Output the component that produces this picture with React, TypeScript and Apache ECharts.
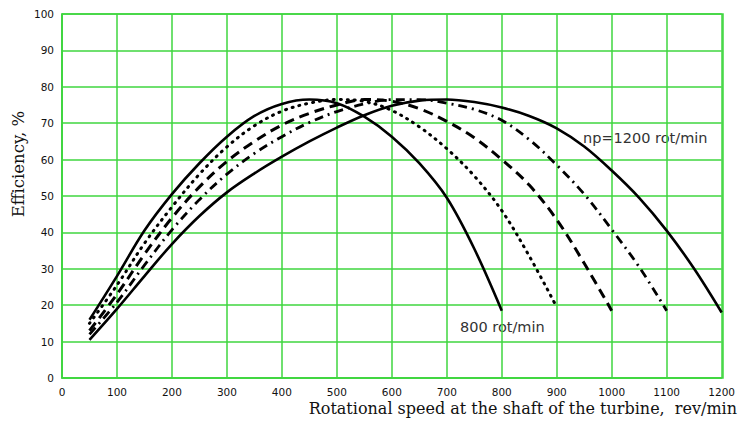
import React, { useEffect, useRef } from "react";
import * as echarts from "echarts";

const speeds800 = [50, 100, 150, 200, 250, 300, 350, 400, 450, 500, 550, 600, 650, 700, 750, 800];
const eff800 = [16, 28, 40.5, 50.5, 59, 66.3, 72, 75.3, 76.5, 75.5, 71.8, 66.3, 59, 49.5, 35.5, 18.5];

const speeds900 = [50, 100, 150, 200, 250, 300, 350, 400, 450, 500, 550, 600, 650, 700, 750, 800, 850, 900];
const eff900 = [15, 25.5, 37, 47, 56, 63.5, 69.3, 73.3, 75.5, 76.5, 76, 73.5, 69, 63, 55.5, 46, 33.5, 19.5];

const speeds1000 = [50, 100, 150, 200, 250, 300, 350, 400, 450, 500, 550, 600, 650, 700, 750, 800, 850, 900, 950, 1000];
const eff1000 = [13, 23, 34, 44, 52.5, 59.5, 65, 69.5, 72.7, 75, 76.5, 76, 74, 70.5, 66, 60, 53, 43.5, 31.5, 18.5];

const speeds1100 = [50, 100, 150, 200, 250, 300, 350, 400, 450, 500, 550, 600, 650, 700, 750, 800, 850, 900, 950, 1000, 1050, 1100];
const eff1100 = [12, 20.8, 31, 40.7, 49, 56, 61.7, 66.3, 70.2, 73.2, 75.3, 76.5, 76.5, 75.5, 73.8, 70.8, 65.5, 58.5, 50.5, 40.8, 30.5, 18.5];

const speeds1200 = [50, 100, 150, 200, 250, 300, 350, 400, 450, 500, 550, 600, 650, 700, 750, 800, 850, 900, 950, 1000, 1050, 1100, 1150, 1200];
const eff1200 = [10.5, 19, 28, 36.8, 44.5, 51, 56.2, 60.8, 65, 68.8, 72.2, 74.8, 76.2, 76.5, 75.8, 74.3, 72, 68.6, 63.6, 57, 49.5, 40.5, 30, 18];

const xLabel = "Rotational speed at the shaft of the turbine,  rev/min";
const yLabel = "Efficiency, %";
const label1200 = "np=1200 rot/min";
const label800 = "800 rot/min";

const zip = (xs: number[], ys: number[]) => xs.map((x, i) => [x, ys[i]]);

export default function App() {
  const ref = useRef<HTMLDivElement>(null);
  useEffect(() => {
    if (!ref.current) return;
    const chart = echarts.init(ref.current, null, { renderer: "svg" });
    const green = "#3fd63f";
    const lineBase = { type: "line", showSymbol: false, smooth: 0.35, silent: true };
    const tickLabel = {
      color: "#111",
      fontFamily: "DejaVu Sans",
      fontSize: 10.5,
      margin: 8,
      formatter: (v: number) => String(v),
    };
    chart.setOption({
      animation: false,
      backgroundColor: "#ffffff",
      grid: { left: 62, right: 15, top: 14, bottom: 47 },
      xAxis: {
        type: "value",
        min: 0,
        max: 1200,
        interval: 100,
        axisLine: { show: true, lineStyle: { color: green, width: 1.5 } },
        axisTick: { show: false },
        splitLine: { show: true, lineStyle: { color: green, width: 1.5 } },
        axisLabel: tickLabel,
      },
      yAxis: {
        type: "value",
        min: 0,
        max: 100,
        interval: 10,
        axisLine: { show: true, lineStyle: { color: green, width: 1.5 } },
        axisTick: { show: false },
        splitLine: { show: true, lineStyle: { color: green, width: 1.5 } },
        axisLabel: tickLabel,
      },
      graphic: [
        {
          type: "rect",
          shape: { x: 62, y: 14, width: 661, height: 364 },
          style: { fill: "none", stroke: green, lineWidth: 1.5 },
          silent: true,
        },
        {
          type: "text",
          x: 737,
          y: 400,
          style: { text: xLabel, fill: "#111", font: "16px 'DejaVu Serif'", align: "right", verticalAlign: "top" },
        },
        {
          type: "text",
          x: 10,
          y: 164,
          rotation: Math.PI / 2,
          style: { text: yLabel, fill: "#111", font: "16.5px 'DejaVu Serif'", align: "center", verticalAlign: "top" },
        },
        {
          type: "text",
          x: 583,
          y: 138,
          style: { text: label1200, fill: "#333", font: "14.5px 'DejaVu Sans'", align: "left", verticalAlign: "middle" },
        },
        {
          type: "text",
          x: 460,
          y: 327,
          style: { text: label800, fill: "#333", font: "14.5px 'DejaVu Sans'", align: "left", verticalAlign: "middle" },
        },
      ],
      series: [
        { ...lineBase, name: "800", data: zip(speeds800, eff800), lineStyle: { color: "#000", width: 2.6 } },
        { ...lineBase, name: "900", data: zip(speeds900, eff900), lineStyle: { color: "#000", width: 3, type: [1, 6], cap: "round" } },
        { ...lineBase, name: "1000", data: zip(speeds1000, eff1000), lineStyle: { color: "#000", width: 3, type: [10, 6] } },
        { ...lineBase, name: "1100", data: zip(speeds1100, eff1100), lineStyle: { color: "#000", width: 2.8, type: [9, 5, 2, 5] } },
        { ...lineBase, name: "1200", data: zip(speeds1200, eff1200), lineStyle: { color: "#000", width: 2.6 } },
      ],
    });
    return () => chart.dispose();
  }, []);
  return <div ref={ref} style={{ width: 738, height: 425, position: "absolute", left: 0, top: 0 }} />;
}
